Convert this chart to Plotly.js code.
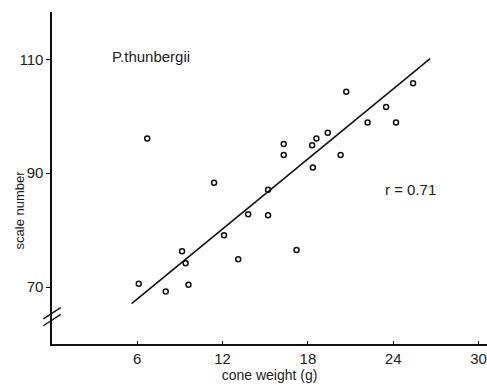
<!DOCTYPE html>
<html>
<head>
<meta charset="utf-8">
<script src="https://cdn.plot.ly/plotly-3.0.1.min.js"></script>
<style>html,body{margin:0;padding:0;background:#fff;}#chart{width:487px;height:387px;}</style>
</head>
<body>
<div id="chart"></div>
<script>
// cone weight (g)
const coneWeight = [6.1, 6.7, 8.0, 9.15, 9.4, 9.6, 11.4, 12.1, 13.1, 13.8, 15.2, 15.2, 16.3, 16.3, 17.2, 18.3, 18.35, 18.6, 19.4, 20.3, 20.7, 22.2, 23.5, 24.2, 25.4];
// scale number
const scaleNumber = [70.6, 96.1, 69.2, 76.3, 74.2, 70.4, 88.3, 79.1, 74.9, 82.8, 82.6, 87.1, 93.2, 95.1, 76.5, 94.9, 91.0, 96.1, 97.1, 93.2, 104.3, 98.9, 101.6, 98.9, 105.8];
// regression line end points
const fitX = [5.6, 26.6];
const fitY = [67.1, 110.1];
const xTicks = [6, 12, 18, 24, 30];
const yTicks = [70, 90, 110];

const fontFam = "Liberation Sans, Arial, sans-serif";
const ink = "#111";

const traces = [
  {x: fitX, y: fitY, mode: "lines", line: {color: ink, width: 1.6}, hoverinfo: "skip"},
  {x: coneWeight, y: scaleNumber, mode: "markers",
   marker: {symbol: "circle-open", size: 5, color: ink, line: {width: 1.5, color: ink}}}
];

const layout = {
  width: 487, height: 387,
  margin: {l: 52, r: 0, t: 12, b: 43},
  paper_bgcolor: "#fff", plot_bgcolor: "#fff",
  showlegend: false,
  font: {family: fontFam, color: ink},
  xaxis: {
    range: [0, 30.6], tickvals: xTicks, ticktext: xTicks.map(String),
    ticks: "inside", ticklen: 3, tickcolor: ink,
    showline: true, linecolor: ink, linewidth: 1.6,
    showgrid: false, zeroline: false,
    tickfont: {size: 15, color: "#222"},
    title: {text: "cone weight (g)", font: {size: 14, color: "#222"}, standoff: 4}
  },
  yaxis: {
    range: [60, 118.3], tickvals: yTicks, ticktext: yTicks.map(String),
    ticks: "outside", ticklen: 4, tickcolor: ink,
    showline: true, linecolor: ink, linewidth: 1.6,
    showgrid: false, zeroline: false,
    tickfont: {size: 15, color: "#222"}
  },
  annotations: [
    {text: "scale number", xref: "paper", yref: "paper", x: -0.075, y: 0.5, xanchor: "center", yanchor: "middle",
     textangle: -90, showarrow: false, font: {size: 13, color: "#222"}, yshift: -32},
    {text: "P.thunbergii", xref: "x", yref: "y", x: 4.1, y: 110.5, xanchor: "left", yanchor: "middle",
     showarrow: false, font: {size: 15, color: "#222"}},
    {text: "r = 0.71", xref: "x", yref: "y", x: 23.3, y: 87.2, xanchor: "left", yanchor: "middle",
     showarrow: false, font: {size: 15, color: "#222"}}
  ],
  shapes: [
    {type: "line", xref: "paper", yref: "y", x0: -0.02, x1: 0.02, y0: 63.2, y1: 65.2, line: {color: ink, width: 1.4}},
    {type: "line", xref: "paper", yref: "y", x0: -0.02, x1: 0.02, y0: 64.4, y1: 66.4, line: {color: ink, width: 1.4}}
  ]
};

Plotly.newPlot("chart", traces, layout, {displayModeBar: false, staticPlot: true});
</script>
</body>
</html>
